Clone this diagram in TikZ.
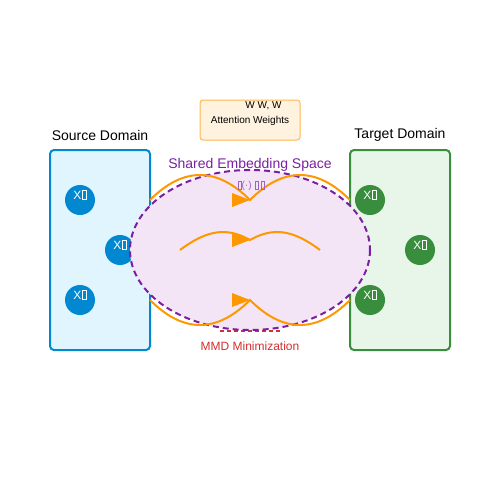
\documentclass[tikz,border=0pt]{standalone}
\usepackage{fontspec}
\setmainfont{Liberation Sans}

\definecolor{srcblue}{RGB}{2,136,209}
\definecolor{srcfill}{RGB}{225,245,254}
\definecolor{tgtgreen}{RGB}{56,142,60}
\definecolor{tgtfill}{RGB}{232,245,233}
\definecolor{embpurple}{RGB}{123,31,162}
\definecolor{embfill}{RGB}{243,229,245}
\definecolor{flowora}{RGB}{255,152,0}
\definecolor{attfill}{RGB}{255,243,224}
\definecolor{attline}{RGB}{255,183,77}
\definecolor{mmdred}{RGB}{211,47,47}

% glyph the picture shows as an empty box
\newcommand{\nogl}{\kern0.08em{\fboxsep=0pt\fboxrule=0.35pt\fbox{\rule{0pt}{0.72em}\hspace{0.26em}}}}

\tikzset{every picture/.style={line width=0.75pt}}

\begin{document}
\begin{tikzpicture}[x=0.75pt,y=0.75pt,yscale=-1,xscale=1,
	dombox/.style={draw,line width=1.5pt,rounded corners=3pt,minimum width=75pt,minimum height=150pt,inner sep=0pt},
	pt/.style={circle,minimum size=22.5pt,inner sep=0pt},
	ptlbl/.style={text=white,font=\fontsize{9}{10}\selectfont,yshift=3.75pt},
	flow/.style={draw=flowora,line width=1.5pt},
	tip/.style={fill=flowora,draw=none},
	title/.style={inner sep=0.75pt,font=\fontsize{10.5}{12}\selectfont}]
	\useasboundingbox (0,0) rectangle (500,500);
	
	%Shape: Rectangle [domains]
	\node [dombox,draw=srcblue,fill=srcfill] (src) at (100,250) {};
	\node [dombox,draw=tgtgreen,fill=tgtfill] (tgt) at (400,250) {};
	%Shape: Rectangle [attention]
	\node [draw=attline,fill=attfill,rounded corners=2.25pt,minimum width=75pt,minimum height=30pt,inner sep=0pt] (att) at (250,120) {};
	
	%Shape: Circle [samples]
	\node [pt,fill=srcblue,label={[ptlbl]center:X\nogl}] (s1) at (80,200) {};
	\node [pt,fill=srcblue,label={[ptlbl]center:X\nogl}] (s2) at (120,250) {};
	\node [pt,fill=srcblue,label={[ptlbl]center:X\nogl}] (s3) at (80,300) {};
	\node [pt,fill=tgtgreen,label={[ptlbl]center:X\nogl}] (t1) at (370,200) {};
	\node [pt,fill=tgtgreen,label={[ptlbl]center:X\nogl}] (t2) at (420,250) {};
	\node [pt,fill=tgtgreen,label={[ptlbl]center:X\nogl}] (t3) at (370,300) {};
	
	\coordinate (mmdL) at (220,331);
	\coordinate (mmdR) at (280,331);
	\draw [mmdred,line width=1.5pt,dash pattern=on 3pt off 2.25pt] (mmdL) -- (mmdR) ;
	
	%Shape: Ellipse [embedding space]
	\draw [embpurple,fill=embfill,line width=1.5pt,dash pattern=on 4.5pt off 3pt] (250,250) ellipse [x radius=90pt,y radius=60pt] ;
	
	%flows
	\coordinate (inTop) at (150,200);
	\coordinate (inMid) at (180,250);
	\coordinate (inBot) at (150,300);
	\coordinate (cTop) at (250,200);
	\coordinate (cMid) at (250,240);
	\coordinate (cBot) at (250,300);
	\coordinate (outTop) at (350,200);
	\coordinate (outMid) at (320,250);
	\coordinate (outBot) at (350,300);
	\draw [flow] (inTop) .. controls (183.33,166.67) and (216.67,166.67) .. (cTop) .. controls (283.33,166.67) and (316.67,166.67) .. (outTop) ;
	\draw [flow] (inMid) .. controls (206.67,230) and (226.67,226.67) .. (cMid) .. controls (273.33,226.67) and (293.33,230) .. (outMid) ;
	\draw [flow] (inBot) .. controls (183.33,333.33) and (216.67,333.33) .. (cBot) .. controls (283.33,333.33) and (316.67,333.33) .. (outBot) ;
	\fill [tip] (cTop) -- ++(-18,-7) -- ++(0,14) -- cycle ;
	\fill [tip] (cMid) -- ++(-18,-7) -- ++(0,14) -- cycle ;
	\fill [tip] (cBot) -- ++(-18,-7) -- ++(0,14) -- cycle ;
	
	\node [title] (srcT) at (100,135) {Source Domain};
	\node [title] (tgtT) at (400,135) {Target Domain};
	\node [title,text=embpurple] (embT) at (250,165) {Shared Embedding Space};
	\node [inner sep=0.75pt,font=\fontsize{7.5}{9}\selectfont] (attW) at (263.5,106) {W W, W};
	\node [inner sep=0.75pt,font=\fontsize{7.5}{9}\selectfont] (attT) at (250,121) {Attention Weights};
	\node [inner sep=0.75pt,text=embpurple!70,font=\fontsize{7.5}{9}\selectfont] (phi) at (251,186) {\nogl(·) \nogl\,\nogl};
	\node [inner sep=0.75pt,text=mmdred,font=\fontsize{9}{10}\selectfont] (mmd) at (250,346) {MMD Minimization};
	
\end{tikzpicture}
\end{document}
